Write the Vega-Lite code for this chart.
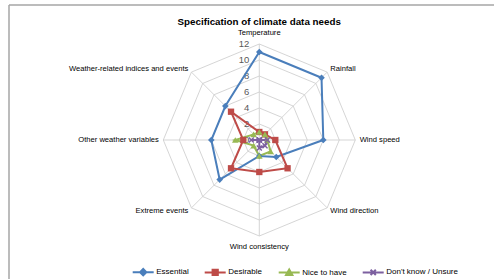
{
  "$schema": "https://vega.github.io/schema/vega-lite/v6.json",
  "width": 485,
  "height": 274,
  "autosize": "none",
  "padding": {"left": 9, "top": 5, "right": 0, "bottom": 0},
  "title": {
    "text": "Specification of climate data needs",
    "anchor": "middle",
    "dx": 7.7,
    "offset": -30,
    "baseline": "alphabetic",
    "font": "Liberation Sans",
    "fontSize": 9.8,
    "fontWeight": "bold",
    "color": "#000000"
  },
  "datasets": {
    "scores": [
      {"series": "Essential", "axis": "Temperature", "i": 0, "value": 11},
      {"series": "Essential", "axis": "Rainfall", "i": 1, "value": 11},
      {"series": "Essential", "axis": "Wind speed", "i": 2, "value": 8},
      {"series": "Essential", "axis": "Wind direction", "i": 3, "value": 3},
      {"series": "Essential", "axis": "Wind consistency", "i": 4, "value": 2},
      {"series": "Essential", "axis": "Extreme events", "i": 5, "value": 7},
      {"series": "Essential", "axis": "Other weather variables", "i": 6, "value": 6},
      {"series": "Essential", "axis": "Weather-related indices and events", "i": 7, "value": 6},
      {"series": "Desirable", "axis": "Temperature", "i": 0, "value": 1},
      {"series": "Desirable", "axis": "Rainfall", "i": 1, "value": 1},
      {"series": "Desirable", "axis": "Wind speed", "i": 2, "value": 2},
      {"series": "Desirable", "axis": "Wind direction", "i": 3, "value": 5},
      {"series": "Desirable", "axis": "Wind consistency", "i": 4, "value": 4},
      {"series": "Desirable", "axis": "Extreme events", "i": 5, "value": 5},
      {"series": "Desirable", "axis": "Other weather variables", "i": 6, "value": 2},
      {"series": "Desirable", "axis": "Weather-related indices and events", "i": 7, "value": 5},
      {"series": "Nice to have", "axis": "Temperature", "i": 0, "value": 1},
      {"series": "Nice to have", "axis": "Rainfall", "i": 1, "value": 1},
      {"series": "Nice to have", "axis": "Wind speed", "i": 2, "value": 1},
      {"series": "Nice to have", "axis": "Wind direction", "i": 3, "value": 2},
      {"series": "Nice to have", "axis": "Wind consistency", "i": 4, "value": 2},
      {"series": "Nice to have", "axis": "Extreme events", "i": 5, "value": 1},
      {"series": "Nice to have", "axis": "Other weather variables", "i": 6, "value": 3},
      {"series": "Nice to have", "axis": "Weather-related indices and events", "i": 7, "value": 1},
      {"series": "Don't know / Unsure", "axis": "Temperature", "i": 0, "value": 0},
      {"series": "Don't know / Unsure", "axis": "Rainfall", "i": 1, "value": 0},
      {"series": "Don't know / Unsure", "axis": "Wind speed", "i": 2, "value": 1},
      {"series": "Don't know / Unsure", "axis": "Wind direction", "i": 3, "value": 1},
      {"series": "Don't know / Unsure", "axis": "Wind consistency", "i": 4, "value": 1},
      {"series": "Don't know / Unsure", "axis": "Extreme events", "i": 5, "value": 0},
      {"series": "Don't know / Unsure", "axis": "Other weather variables", "i": 6, "value": 1},
      {"series": "Don't know / Unsure", "axis": "Weather-related indices and events", "i": 7, "value": 0}
    ],
    "categories": [
      {"axis": "Temperature", "i": 0},
      {"axis": "Rainfall", "i": 1},
      {"axis": "Wind speed", "i": 2},
      {"axis": "Wind direction", "i": 3},
      {"axis": "Wind consistency", "i": 4},
      {"axis": "Extreme events", "i": 5},
      {"axis": "Other weather variables", "i": 6},
      {"axis": "Weather-related indices and events", "i": 7}
    ],
    "rings": [
      {"level": 2, "k": [0, 1, 2, 3, 4, 5, 6, 7]},
      {"level": 4, "k": [0, 1, 2, 3, 4, 5, 6, 7]},
      {"level": 6, "k": [0, 1, 2, 3, 4, 5, 6, 7]},
      {"level": 8, "k": [0, 1, 2, 3, 4, 5, 6, 7]},
      {"level": 10, "k": [0, 1, 2, 3, 4, 5, 6, 7]},
      {"level": 12, "k": [0, 1, 2, 3, 4, 5, 6, 7]}
    ],
    "ticks": [
      {"t": 0}, {"t": 2}, {"t": 4}, {"t": 6}, {"t": 8}, {"t": 10}, {"t": 12}
    ]
  },
  "layer": [
    {
      "data": {"name": "rings"},
      "transform": [
        {"flatten": ["k"]},
        {"calculate": "datum.level * sin(datum.k * PI / 4)", "as": "x"},
        {"calculate": "datum.level * cos(datum.k * PI / 4)", "as": "y"}
      ],
      "mark": {"type": "line", "interpolate": "linear-closed", "color": "#d0d0d0", "strokeWidth": 0.9},
      "encoding": {
        "x": {"field": "x", "type": "quantitative", "scale": {"domain": [-31.2875, 29.3375], "nice": false, "zero": false}, "axis": null},
        "y": {"field": "y", "type": "quantitative", "scale": {"domain": [-17.375, 16.875], "nice": false, "zero": false}, "axis": null},
        "detail": {"field": "level", "type": "nominal"},
        "order": {"field": "k", "type": "quantitative"}
      }
    },
    {
      "data": {"name": "categories"},
      "transform": [
        {"calculate": "12 * sin(datum.i * PI / 4)", "as": "ex"},
        {"calculate": "12 * cos(datum.i * PI / 4)", "as": "ey"}
      ],
      "mark": {"type": "rule", "color": "#d0d0d0", "strokeWidth": 0.9},
      "encoding": {
        "x": {"field": "ex", "type": "quantitative"},
        "y": {"field": "ey", "type": "quantitative"},
        "x2": {"datum": 0},
        "y2": {"datum": 0}
      }
    },
    {
      "data": {"name": "ticks"},
      "mark": {"type": "text", "align": "right", "baseline": "middle", "dx": -10, "font": "Liberation Sans", "fontSize": 9.5, "color": "#595959"},
      "encoding": {
        "x": {"datum": 0, "type": "quantitative"},
        "y": {"field": "t", "type": "quantitative"},
        "text": {"field": "t", "type": "quantitative"}
      }
    },
    {
      "data": {"name": "categories"},
      "transform": [
        {"calculate": "datum.i % 4 == 0 ? 13.35 : 12.55", "as": "lr"},
        {"calculate": "datum.lr * sin(datum.i * PI / 4)", "as": "lx"},
        {"calculate": "datum.lr * cos(datum.i * PI / 4)", "as": "ly"}
      ],
      "layer": [
        {
          "transform": [{"filter": "datum.i % 4 == 0"}],
          "mark": {"type": "text", "align": "center", "baseline": "middle", "font": "Liberation Sans", "fontSize": 7.6, "color": "#000000"},
          "encoding": {
            "x": {"field": "lx", "type": "quantitative"},
            "y": {"field": "ly", "type": "quantitative"},
            "text": {"field": "axis"}
          }
        },
        {
          "transform": [{"filter": "datum.i > 0 && datum.i < 4"}],
          "mark": {"type": "text", "align": "left", "baseline": "middle", "font": "Liberation Sans", "fontSize": 7.6, "color": "#000000"},
          "encoding": {
            "x": {"field": "lx", "type": "quantitative"},
            "y": {"field": "ly", "type": "quantitative"},
            "text": {"field": "axis"}
          }
        },
        {
          "transform": [{"filter": "datum.i > 4"}],
          "mark": {"type": "text", "align": "right", "baseline": "middle", "font": "Liberation Sans", "fontSize": 7.6, "color": "#000000"},
          "encoding": {
            "x": {"field": "lx", "type": "quantitative"},
            "y": {"field": "ly", "type": "quantitative"},
            "text": {"field": "axis"}
          }
        }
      ]
    },
    {
      "data": {"name": "scores"},
      "transform": [
        {"calculate": "datum.value * sin(datum.i * PI / 4)", "as": "x"},
        {"calculate": "datum.value * cos(datum.i * PI / 4)", "as": "y"}
      ],
      "layer": [
        {
          "mark": {"type": "line", "interpolate": "linear-closed", "strokeWidth": 2},
          "encoding": {
            "x": {"field": "x", "type": "quantitative"},
            "y": {"field": "y", "type": "quantitative"},
            "order": {"field": "i", "type": "quantitative"},
            "color": {
              "field": "series",
              "type": "nominal",
              "scale": {"domain": ["Essential", "Desirable", "Nice to have", "Don't know / Unsure"], "range": ["#4A7EBB", "#BE4B48", "#98B954", "#7D60A0"]},
              "legend": {
                "title": null,
                "orient": "none",
                "direction": "horizontal",
                "columns": 4,
                "legendX": 122.7,
                "legendY": 255.5,
                "padding": 0,
                "columnPadding": 12,
                "symbolSize": 441,
                "symbolStrokeWidth": 2,
                "labelOffset": 1.5,
                "labelFont": "Liberation Sans",
                "labelFontSize": 8,
                "labelColor": "#000000",
                "encode": {
                  "symbols": {
                    "update": {
                      "shape": {"signal": "datum.value === 'Essential' ? 'M-1,0H1M0,-0.3L0.3,0L0,0.3L-0.3,0Z' : datum.value === 'Desirable' ? 'M-1,0H1M-0.25,-0.25H0.25V0.25H-0.25Z' : datum.value === 'Nice to have' ? 'M-1,0H1M0,-0.3L0.3,0.22H-0.3Z' : 'M-1,0H1M-0.25,-0.25L0.25,0.25M-0.25,0.25L0.25,-0.25'"},
                      "fill": {"signal": "scale('color', datum.value)"},
                      "stroke": {"signal": "scale('color', datum.value)"},
                      "strokeWidth": {"value": 2}
                    }
                  }
                }
              }
            }
          }
        },
        {
          "transform": [{"filter": "datum.series === 'Essential'"}],
          "mark": {"type": "point", "shape": "diamond", "filled": true, "size": 44, "opacity": 1},
          "encoding": {
            "x": {"field": "x", "type": "quantitative"},
            "y": {"field": "y", "type": "quantitative"},
            "color": {"field": "series", "type": "nominal"}
          }
        },
        {
          "transform": [{"filter": "datum.series === 'Desirable'"}],
          "mark": {"type": "point", "shape": "square", "filled": true, "size": 40, "opacity": 1},
          "encoding": {
            "x": {"field": "x", "type": "quantitative"},
            "y": {"field": "y", "type": "quantitative"},
            "color": {"field": "series", "type": "nominal"}
          }
        },
        {
          "transform": [{"filter": "datum.series === 'Nice to have'"}],
          "mark": {"type": "point", "shape": "triangle-up", "filled": true, "size": 44, "opacity": 1},
          "encoding": {
            "x": {"field": "x", "type": "quantitative"},
            "y": {"field": "y", "type": "quantitative"},
            "color": {"field": "series", "type": "nominal"}
          }
        },
        {
          "transform": [{"filter": "datum.series === 'Don\\'t know / Unsure'"}],
          "mark": {"type": "point", "shape": "M-1,-1L1,1M-1,1L1,-1", "filled": false, "size": 25, "strokeWidth": 1.5, "opacity": 1},
          "encoding": {
            "x": {"field": "x", "type": "quantitative"},
            "y": {"field": "y", "type": "quantitative"},
            "color": {"field": "series", "type": "nominal"}
          }
        }
      ]
    }
  ],
  "config": {
    "view": {"stroke": "#a6a6a6", "strokeWidth": 1.5, "strokeDash": [485, 759, 274, 0]},
    "font": "Liberation Sans"
  }
}
